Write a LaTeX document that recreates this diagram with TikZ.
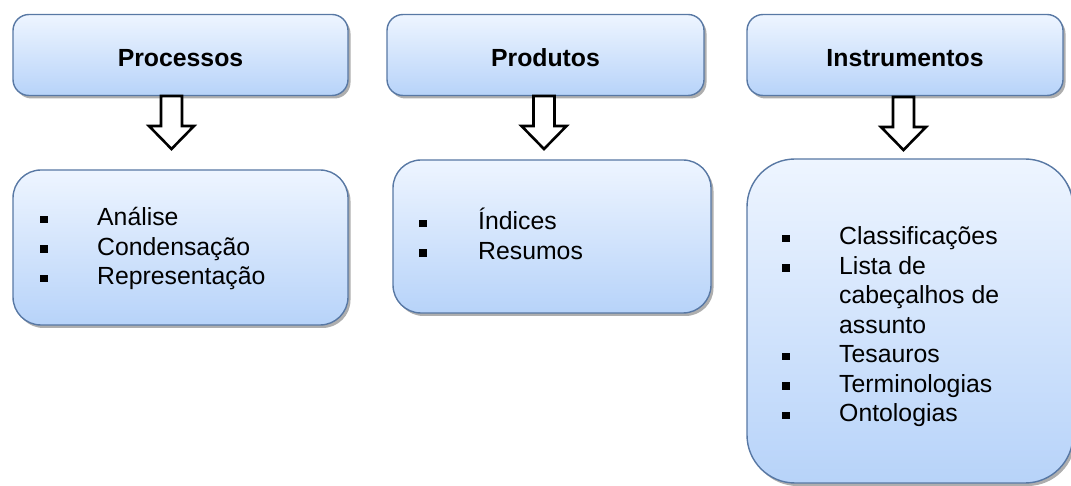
\documentclass[tikz,border=0pt]{standalone}
\usepackage{fontspec}
\setmainfont{Liberation Sans}
\usetikzlibrary{shadows}
\definecolor{boxtop}{HTML}{EEF5FF}
\definecolor{boxbot}{HTML}{B7D3F9}
\definecolor{boxline}{HTML}{5878A4}
\newcommand{\blt}{\raisebox{2.5pt}{\rule{7.5pt}{7.5pt}}}
\begin{document}
\begin{tikzpicture}[x=1pt,y=-1pt,
  box/.style={draw=boxline, line width=1.4pt, top color=boxtop, bottom color=boxbot,
    inner sep=0pt, drop shadow={shadow xshift=2.5pt, shadow yshift=-3pt, opacity=0.45, fill=black!70}},
  titletext/.style={anchor=base, inner sep=0pt, font=\fontsize{24.8}{29.5}\selectfont\bfseries},
  listtext/.style={anchor=base west, inner sep=0pt, font=\fontsize{24.8}{29.5}\selectfont},
  downarrow/.pic={\draw[black, line width=2.6pt, fill=white, line join=miter]
    (-10.5,0) -- (-10.5,30) -- (-22.5,30) -- (0,53) -- (22.5,30) -- (10.5,30) -- (10.5,0) -- cycle;}
]
\useasboundingbox (0,0) rectangle (1071,486);

% top boxes
\node[box, rounded corners=16pt, minimum width=335pt, minimum height=81pt] (t1) at (180.5,55) {};
\node[box, rounded corners=16pt, minimum width=317pt, minimum height=81pt] (t2) at (545.5,55) {};
\node[box, rounded corners=16pt, minimum width=316pt, minimum height=81pt] (t3) at (905,55) {};

\node[titletext] (l1) at (180.5,66.7) {Processos};
\node[titletext] (l2) at (545.5,66.7) {Produtos};
\node[titletext] (l3) at (905,66.7) {Instrumentos};

% bottom boxes
\node[box, rounded corners=28pt, minimum width=335pt, minimum height=155pt] (b1) at (180.5,247.5) {};
\node[box, rounded corners=28pt, minimum width=318pt, minimum height=153pt] (b2) at (552,236.5) {};
\node[box, rounded corners=48pt, minimum width=326pt, minimum height=324pt] (b3) at (910,321) {};

% arrows
\coordinate (a1) at (171.5,96);
\coordinate (a2) at (544,96);
\coordinate (a3) at (903.5,97);
\pic at (a1) {downarrow};
\pic at (a2) {downarrow};
\pic at (a3) {downarrow};

% lists
\node[listtext] (c1) at (40,225.7) {\begin{tabular}[t]{@{}l@{\hspace{49.5pt}}l@{}}
\blt & Análise\\
\blt & Condensação\\
\blt & Representação
\end{tabular}};
\node[listtext] (c2) at (419,230) {\begin{tabular}[t]{@{}l@{\hspace{51.5pt}}l@{}}
\blt & Índices\\
\blt & Resumos
\end{tabular}};
\node[listtext] (c3) at (782,245) {\begin{tabular}[t]{@{}l@{\hspace{49.5pt}}l@{}}
\blt & Classificações\\
\blt & Lista de\\
 & cabeçalhos de\\
 & assunto\\
\blt & Tesauros\\
\blt & Terminologias\\
\blt & Ontologias
\end{tabular}};
\end{tikzpicture}
\end{document}
